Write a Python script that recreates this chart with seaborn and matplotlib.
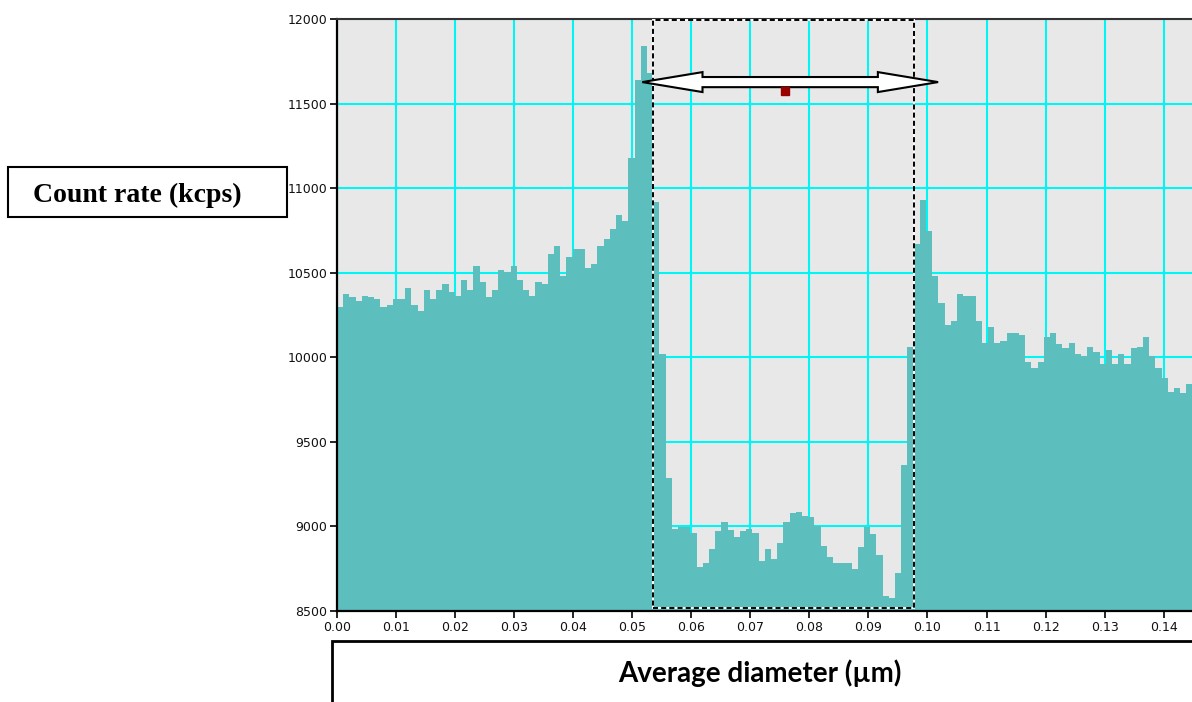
import numpy as np
import pandas as pd
import matplotlib
matplotlib.use("Agg")
import matplotlib.pyplot as plt
from matplotlib.patches import Rectangle, Polygon
import seaborn as sns

# ---- data (count rate per diameter bin) ----
left_plateau = [10296, 10377, 10355, 10333, 10365, 10355, 10343, 10296, 10308, 10343,
                10343, 10412, 10308, 10274, 10400, 10343, 10400, 10436, 10388, 10365,
                10458, 10400, 10539, 10446, 10355, 10400, 10515, 10505, 10539, 10458,
                10400, 10365, 10446, 10436]
rise_to_peak = [10610, 10655, 10481, 10595, 10643, 10643, 10527, 10550, 10655, 10702,
                10759, 10842, 10806, 11177, 11640, 11841, 11680, 10921]
gap_region = [10018, 9285, 8985, 8995, 8995, 8959, 8762, 8786, 8865, 8971,
              9028, 8979, 8936, 8971, 8983, 8959, 8798, 8865, 8808, 8900,
              9028, 9078, 9087, 9064, 9058, 9003, 8886, 8819, 8786, 8786,
              8786, 8750, 8877, 8995, 8957, 8829, 8589, 8577, 8727, 9365,
              10063]
right_plateau = [10669, 10931, 10747, 10481, 10320, 10191, 10213, 10375, 10365, 10365,
                 10213, 10087, 10180, 10087, 10099, 10146, 10146, 10134, 9971, 9937,
                 9971, 10122, 10146, 10077, 10053, 10087, 10018, 10006, 10063, 10030,
                 9959, 10042, 9959, 10018, 9959, 10053, 10063, 10120, 10006, 9937,
                 9878, 9797, 9821, 9787, 9842]

bin_width = 0.00105
x_ticks = [0.00, 0.01, 0.02, 0.03, 0.04, 0.05, 0.06, 0.07, 0.08, 0.09, 0.10, 0.11, 0.12, 0.13, 0.14]
y_ticks = [8500, 9000, 9500, 10000, 10500, 11000, 11500, 12000]
x_label = "Average diameter (µm)"
y_label = "Count rate (kcps)"

# selection window and arrow annotation
window_x = (0.0536, 0.0978)
window_y = (8516, 11993)
arrow_x = (0.0517, 0.1018)
arrow_y = 11627
marker_x, marker_y = 0.0759, 11576

count_rate = np.array(left_plateau + rise_to_peak + gap_region + right_plateau, dtype=float)
n_bins = len(count_rate)
edges = (np.arange(n_bins + 1) * bin_width).tolist()
centers = [(edges[i] + edges[i + 1]) / 2 for i in range(n_bins)]
df = pd.DataFrame({"diameter": centers, "rate": count_rate})

sns.set_theme(style="white")
plt.rcParams['font.family'] = ['DejaVu Sans']

W, H = 1192, 702
fig = plt.figure(figsize=(W / 100, H / 100), dpi=100)
ax = fig.add_axes([337 / W, (H - 611) / H, (W - 337) / W, 592 / H])
ax.set_facecolor('#E8E8E8')

sns.histplot(data=df, x="diameter", weights="rate", bins=edges, element='step', fill=True,
             color='#5DBEBE', alpha=1, linewidth=0, ax=ax)

ax.set_xlim(0, edges[-1] - 0.0001)
ax.set_ylim(8500, 12000)
ax.set_axisbelow(True)
ax.grid(True, color='#00F5F5', lw=1.5)
ax.set_xticks(x_ticks)
ax.set_xticklabels([f"{t:.2f}" for t in x_ticks])
ax.set_yticks(y_ticks)
ax.set_yticklabels([str(t) for t in y_ticks])
ax.tick_params(axis='both', direction='out', length=5, width=1.2, color='black',
               labelsize=9, labelcolor='#111111', pad=2, left=True, bottom=True)
ax.set_xlabel('')
ax.set_ylabel('')
for side in ['left', 'bottom']:
    ax.spines[side].set_color('black')
    ax.spines[side].set_linewidth(1.6)
ax.spines['top'].set_color('#333333')
ax.spines['top'].set_linewidth(1.5)
ax.spines['right'].set_visible(False)

# dashed selection window
wx0, wx1 = window_x
wy0, wy1 = window_y
ax.add_patch(Rectangle((wx0, wy0), wx1 - wx0, wy1 - wy0, fill=False,
                       edgecolor='white', lw=1.4, zorder=4))
ax.add_patch(Rectangle((wx0, wy0), wx1 - wx0, wy1 - wy0, fill=False,
                       edgecolor='black', lw=1.4, ls=(0, (2.6, 1.6)), zorder=5))

# double-headed block arrow
x0, x1 = arrow_x
hl = 0.0102
hh = 59
sh = 30
yc = arrow_y
verts = [(x0, yc), (x0 + hl, yc + hh), (x0 + hl, yc + sh), (x1 - hl, yc + sh),
         (x1 - hl, yc + hh), (x1, yc), (x1 - hl, yc - hh), (x1 - hl, yc - sh),
         (x0 + hl, yc - sh), (x0 + hl, yc - hh)]
ax.add_patch(Polygon(verts, closed=True, facecolor='white', edgecolor='black',
                     lw=1.5, zorder=6, clip_on=False))
ax.plot([marker_x], [marker_y], marker='s', ms=6, color='#990000', mec='#990000', zorder=7)

# y label box
fig.patches.append(Rectangle((8 / W, (H - 217) / H), 279 / W, 50 / H,
                             transform=fig.transFigure, facecolor='white',
                             edgecolor='black', lw=1.5, zorder=0))
fig.text(137 / W, (H - 195) / H, y_label, ha='center', va='center', color='black',
         family=['Liberation Serif', 'DejaVu Serif'], weight='bold', size=20)

# x label box
fig.patches.append(Rectangle((332 / W, -0.1), 1.0, (H - 641) / H + 0.1,
                             transform=fig.transFigure, facecolor='white',
                             edgecolor='black', lw=2, zorder=0))
fig.text(760 / W, (H - 673) / H, x_label, ha='center', va='center', color='black',
         family=['Lato', 'DejaVu Sans'], weight='bold', size=20)

fig.savefig('out.png', dpi=100)
